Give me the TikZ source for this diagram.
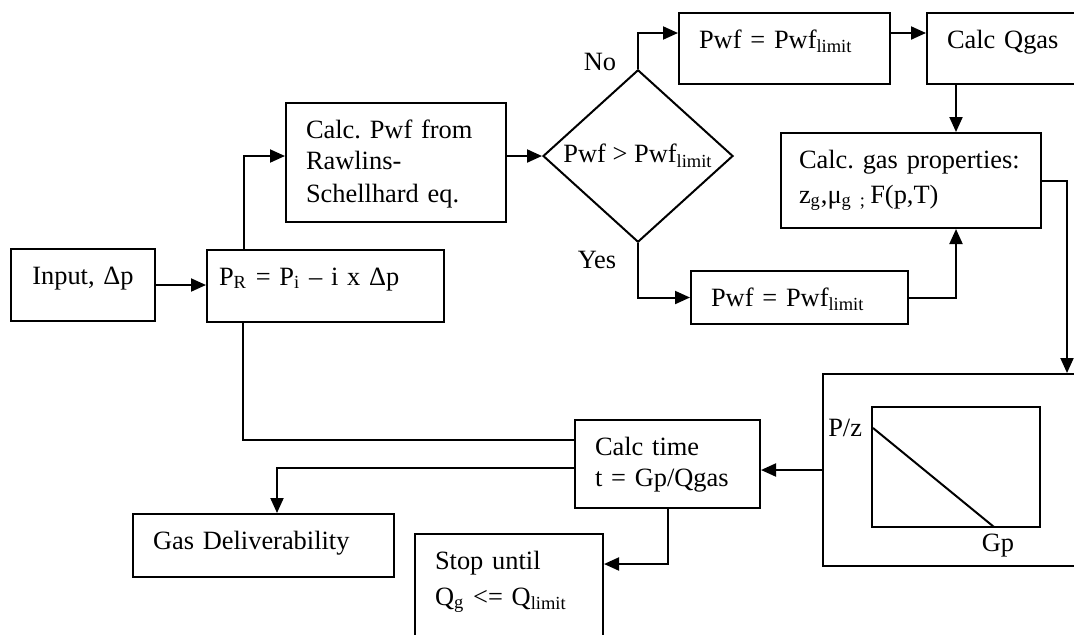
\documentclass[tikz,border=0pt]{standalone}
\usepackage{fontspec}
\setmainfont{Liberation Serif}
\usetikzlibrary{arrows.meta,shapes.geometric}
\frenchspacing
\hyphenpenalty=10000

\begin{document}
\begin{tikzpicture}[x=0.5pt,y=-0.5pt,line width=1pt,
        font=\fontsize{13.2}{15.5}\selectfont,
        box/.style={draw,anchor=north west,align=left,inner xsep=10pt,inner ysep=0pt,text height=17.5pt},
        arr/.style={-{Triangle[length=7.5pt,width=6.5pt]}}]
        \useasboundingbox (0,0) rectangle (1074,634);
        \clip (0,0) rectangle (1074,634);
        \node[box,align=center,text width=52pt,text depth=18.5pt] (input) at (10,248) {Input, Δp};
        \node[box,inner xsep=6pt,text width=106.5pt,text depth=18.5pt] (pr) at (206,249)
            {P\textsubscript{R} = P\textsubscript{i} – i x Δp};
        \node[box,text width=90pt,text depth=42pt] (pwfcalc) at (285,102)
            {Calc. Pwf from\\Rawlins-\\[1pt]Schellhard eq.};
        \node[draw,shape=diamond,minimum width=95pt,minimum height=62pt,inner sep=0pt] (dec) at (638,156)
            {Pwf > Pwf\textsubscript{limit}};
        \node[box,text width=85.5pt,text depth=18pt] (pwfno) at (678,12) {Pwf = Pwf\textsubscript{limit}};
        \node[box,text width=65pt,text depth=18pt] (qgas) at (926,12) {Calc Qgas};
        \node[box,inner xsep=9pt,text width=112pt,text depth=30pt] (props) at (780,132)
            {Calc. gas properties:\\[2pt]z\textsubscript{g},μ\textsubscript{g ;}\,F(p,T)};
        \node[box,text width=88.5pt,text depth=9pt] (pwfyes) at (690,270) {Pwf = Pwf\textsubscript{limit}};
        \node[box,text width=119pt,text depth=78.5pt] (plot) at (822,373) {};
        \node[box,text width=72.5pt,text depth=26.5pt] (time) at (574,419) {Calc time\\t = Gp/Qgas};
        \node[box,text width=110.5pt,text depth=14pt] (deliv) at (132,513) {Gas Deliverability};
        \node[box,text width=74pt,text depth=56pt] (stop) at (414,533)
            {Stop until\\[2.5pt]Q\textsubscript{g} <= Q\textsubscript{limit}};
        \node (no) at (600,62) {No};
        \node (yes) at (597,260) {Yes};
        \draw (872,407) rectangle (1040,527);
        \draw (873,428) -- (994,527);
        \node[anchor=east,inner sep=0pt] (pz) at (863,428) {P/z};
        \node[inner sep=0pt] (gp) at (998,546) {Gp};
        \coordinate (toprow) at (0,33);
        \coordinate (rx) at (1067,0);
        \coordinate (q1) at ([xshift=15pt]qgas.south west);
        \draw[arr] (input.east) -- (input.east -| pr.west);
        \draw[arr] (pr.north west) ++(38,0) |- (pwfcalc.west |- dec);
        \draw[arr] (pwfcalc.east |- dec) -- (dec.west);
        \draw[arr] (dec.north) |- (pwfno.west |- toprow);
        \draw[arr] (pwfno.east |- toprow) -- (qgas.west |- toprow);
        \draw[arr] (q1) -- (q1 |- props.north);
        \draw[arr] (dec.south) |- (pwfyes.west);
        \draw[arr] (pwfyes.east) -| (q1 |- props.south);
        \draw[arr] (props.east) -| (rx |- plot.north);
        \draw[arr] (plot.west) -- (plot.west -| time.east);
        \draw (pr.south west) ++(37,0) |- ([yshift=12pt]time.west);
        \draw[arr] ([yshift=-2pt]time.west) -| ([xshift=72.5pt]deliv.north west);
        \draw[arr] ([xshift=47pt]time.south west) |- ([yshift=-15.5pt]stop.north east);
\end{tikzpicture}
\end{document}
